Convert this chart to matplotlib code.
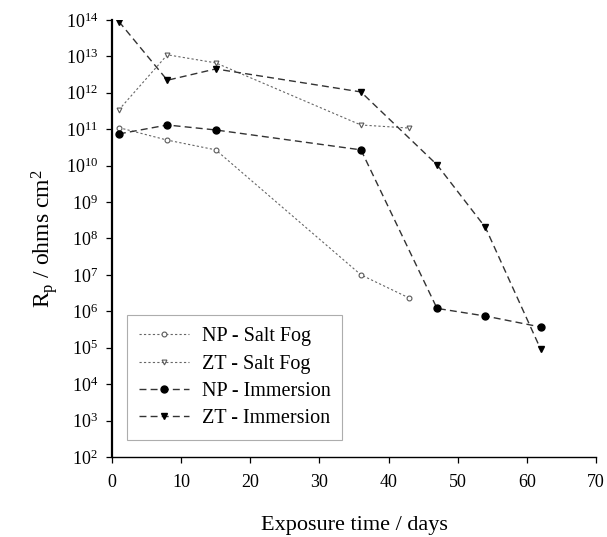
#!/usr/bin/env python3
"""Polarisation resistance vs exposure time, log scale."""
import numpy as np
import matplotlib
matplotlib.use('Agg')
import matplotlib.pyplot as plt
from matplotlib.ticker import LogLocator, LogFormatterMathtext, NullLocator

plt.rcParams['font.family'] = ['Liberation Serif', 'DejaVu Serif']
plt.rcParams['mathtext.fontset'] = 'custom'
plt.rcParams['mathtext.rm'] = 'Liberation Serif'
plt.rcParams['mathtext.it'] = 'Liberation Serif:italic'

# exposure days and Rp values (ohm cm^2)
np_fog_days = [1, 8, 15, 36, 43]
np_fog_rp = [1.1e11, 5.0e10, 2.7e10, 1.0e7, 2.3e6]

zt_fog_days = [1, 8, 15, 36, 43]
zt_fog_rp = [3.4e11, 1.1e13, 6.6e12, 1.3e11, 1.07e11]

np_imm_days = [1, 8, 15, 36, 47, 54, 62]
np_imm_rp = [7.4e10, 1.3e11, 9.5e10, 2.7e10, 1.2e6, 7.4e5, 3.7e5]

zt_imm_days = [1, 8, 15, 36, 47, 54, 62]
zt_imm_rp = [9.0e13, 2.2e12, 4.5e12, 1.05e12, 1.05e10, 2.0e8, 9.0e4]

series_labels = ['NP - Salt Fog', 'ZT - Salt Fog', 'NP - Immersion', 'ZT - Immersion']
x_ticks = [0, 10, 20, 30, 40, 50, 60, 70]


def main() -> None:
    fig = plt.figure(figsize=(6.07, 5.37), dpi=100)
    ax = fig.add_axes([0.1845, 0.149, 0.7975, 0.814])

    ax.plot(np_fog_days, np_fog_rp, linestyle=(0, (2, 2)), color='0.4', lw=0.8,
            marker='o', ms=3.5, mfc='white', mec='0.35', mew=0.8, label=series_labels[0])
    ax.plot(zt_fog_days, zt_fog_rp, linestyle=(0, (2, 2)), color='0.4', lw=0.8,
            marker='v', ms=3.5, mfc='white', mec='0.35', mew=0.8, label=series_labels[1])
    ax.plot(np_imm_days, np_imm_rp, linestyle=(0, (5, 3)), color='0.2', lw=1.0,
            marker='o', ms=5, mfc='black', mec='black', label=series_labels[2])
    ax.plot(zt_imm_days, zt_imm_rp, linestyle=(0, (5, 3)), color='0.2', lw=1.0,
            marker='v', ms=5, mfc='black', mec='black', label=series_labels[3])

    ax.set_yscale('log')
    ax.set_ylim(1e2, 1e14)
    ax.set_xlim(0, 70)
    ax.set_xticks(x_ticks)
    ax.yaxis.set_major_locator(LogLocator(base=10, numticks=20))
    ax.yaxis.set_major_formatter(LogFormatterMathtext())
    ax.yaxis.set_minor_locator(NullLocator())

    for s in ('top', 'right'):
        ax.spines[s].set_visible(False)
    ax.spines['left'].set_linewidth(1.6)
    ax.spines['bottom'].set_linewidth(1.0)
    ax.tick_params(axis='both', direction='out', length=4, width=0.9, labelsize=13)
    ax.tick_params(axis='y', pad=6)
    ax.tick_params(axis='x', pad=8)

    ax.set_xlabel('Exposure time / days', fontsize=16, labelpad=18)
    ax.set_ylabel(r'R$_\mathrm{p}$ / ohms cm$^2$', fontsize=17, labelpad=4)

    leg = ax.legend(loc='lower left', bbox_to_anchor=(0.031, 0.039), borderaxespad=0,
                    fontsize=14.5, frameon=True, fancybox=False, edgecolor='0.6',
                    handlelength=2.5, handletextpad=0.6, borderpad=0.6,
                    labelspacing=0.4)
    leg.get_frame().set_linewidth(0.8)

    fig.savefig('out.png', dpi=100)
    plt.close(fig)


if __name__ == '__main__':
    main()
